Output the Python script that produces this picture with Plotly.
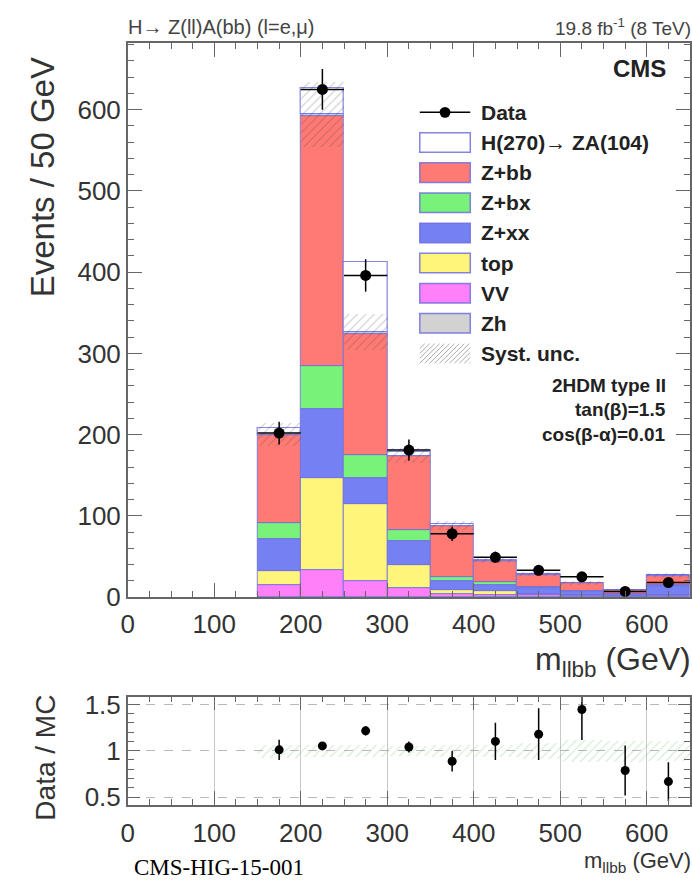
import numpy as np
import plotly.graph_objects as go

W, H = 692, 894

# m_llbb bins (GeV): 150-650 in 50 GeV steps
mass_centers = [175, 225, 275, 325, 375, 425, 475, 525, 575, 625]
bin_width = 50

data_counts = [202, 625, 396, 181, 78, 49, 33, 25, 7, 18]
data_err = [14, 25, 20, 13, 9, 7, 6, 5, 3, 4]

bkg_vv = [15, 33, 20, 11, 4, 3, 2, 1, 0.5, 1]
bkg_top = [17, 114, 94, 29, 5, 4, 2, 1, 0.5, 2]
bkg_zxx = [39, 84, 33, 29, 11, 8, 7, 5, 2.5, 10]
bkg_zbx = [20, 54, 28, 13, 5, 3, 1, 1, 0.5, 1.5]
bkg_zbb = [108, 307, 149, 91, 62, 26, 15.5, 9, 4.7, 12]
bkg_zh = [1, 2, 2, 1, 1, 0.5, 0.5, 0.3, 0.2, 0.5]
signal_h270 = [8, 33, 86, 4, 2, 1, 0.5, 0.3, 0.2, 0.5]
syst_unc = [14, 40, 22, 9, 6, 3, 2.5, 2, 1, 3]

ratio_err = [0.11, 0.04, 0.05, 0.06, 0.11, 0.2, 0.28, 0.33, 0.27, 0.21]

x_ticks = [0, 100, 200, 300, 400, 500, 600]
y_ticks = [0, 100, 200, 300, 400, 500, 600]
ratio_ticks = [0.5, 1, 1.5]
ratio_tick_text = ["0.5", "1", "1.5"]

layers = [
    ("VV", bkg_vv, "#ff80f8"),
    ("top", bkg_top, "#fff57a"),
    ("Z+xx", bkg_zxx, "#7580f2"),
    ("Z+bx", bkg_zbx, "#78f278"),
    ("Z+bb", bkg_zbb, "#ff7a74"),
    ("Zh", bkg_zh, "#d2d2d2"),
]
OUTLINE = "rgba(110,110,225,0.85)"

fig = go.Figure()

# stacked backgrounds
base = np.zeros(len(mass_centers))
for name, vals, col in layers:
    v = np.array(vals, dtype=float)
    fig.add_trace(go.Bar(
        x=mass_centers, y=v, base=base.copy(), width=bin_width,
        marker=dict(color=col, line=dict(color=OUTLINE, width=1)),
        name=name, showlegend=False, xaxis="x", yaxis="y"))
    base = base + v
bkg_total = base.copy()

# signal on top of the background stack
fig.add_trace(go.Bar(
    x=mass_centers, y=signal_h270, base=bkg_total, width=bin_width,
    marker=dict(color="white", line=dict(color=OUTLINE, width=1.2)),
    showlegend=False, xaxis="x", yaxis="y"))

# systematic uncertainty band
unc = np.array(syst_unc, dtype=float)
fig.add_trace(go.Bar(
    x=mass_centers, y=2 * unc, base=bkg_total - unc, width=bin_width,
    marker=dict(color="rgba(0,0,0,0)", line=dict(width=0),
                pattern=dict(shape="/", fgcolor="rgba(60,60,60,0.55)",
                             bgcolor="rgba(0,0,0,0)", size=6, solidity=0.18)),
    showlegend=False, xaxis="x", yaxis="y"))

# data points
fig.add_trace(go.Scatter(
    x=mass_centers, y=data_counts, mode="markers",
    marker=dict(size=11, color="black"),
    error_y=dict(type="data", array=data_err, width=0, thickness=1.5, color="black"),
    error_x=dict(type="constant", value=bin_width / 2, width=0, thickness=1.5, color="black"),
    showlegend=False, xaxis="x", yaxis="y"))

# ratio panel
ratio = np.array(data_counts, dtype=float) / bkg_total
rel_unc = unc / bkg_total
fig.add_trace(go.Bar(
    x=mass_centers, y=2 * rel_unc, base=1 - rel_unc, width=bin_width,
    marker=dict(color="rgba(0,0,0,0)", line=dict(width=0),
                pattern=dict(shape="/", fgcolor="rgba(120,190,120,0.6)",
                             bgcolor="rgba(0,0,0,0)", size=6, solidity=0.2)),
    showlegend=False, xaxis="x2", yaxis="y2"))
fig.add_trace(go.Scatter(
    x=mass_centers, y=ratio, mode="markers",
    marker=dict(size=9, color="black"),
    error_y=dict(type="data", array=ratio_err, width=0, thickness=1.5, color="black"),
    showlegend=False, xaxis="x2", yaxis="y2", cliponaxis=True))


def px(x):
    return x / W


def py(y):
    return 1 - y / H


FONT = "Liberation Sans, Arial, sans-serif"
AXCOL = "#666"
TXT = "#333"

x_dom = [px(122), px(690)]
common_x = dict(range=[0, 650], tickvals=x_ticks, ticks="inside", ticklen=14,
                tickcolor=AXCOL, showline=True, linecolor=AXCOL, linewidth=1.5,
                mirror="ticks", zeroline=False,
                minor=dict(dtick=25, ticks="inside", ticklen=6, tickcolor=AXCOL),
                tickfont=dict(family=FONT, size=26, color=TXT))

fig.update_layout(
    width=W, height=H, margin=dict(l=0, r=0, t=0, b=0),
    paper_bgcolor="white", plot_bgcolor="white",
    barmode="overlay", bargap=0, showlegend=False,
    xaxis=dict(domain=x_dom, anchor="y", showgrid=False, ticklabelstandoff=3, **common_x),
    yaxis=dict(domain=[py(605), py(37)], anchor="x", range=[0, 682],
               tickvals=y_ticks, ticks="inside", ticklen=14, tickcolor=AXCOL,
               showline=True, linecolor=AXCOL, linewidth=1.5, mirror="ticks",
               zeroline=False, showgrid=False,
               minor=dict(dtick=20, ticks="inside", ticklen=6, tickcolor=AXCOL),
               tickfont=dict(family=FONT, size=26, color=TXT)),
    xaxis2=dict(domain=x_dom, anchor="y2", showgrid=True, gridcolor="#c8c8c8",
                gridwidth=1, ticklabelstandoff=4, **common_x),
    yaxis2=dict(domain=[py(818), py(707)], anchor="x2", range=[0.415, 1.585],
                tickvals=ratio_ticks, ticktext=ratio_tick_text, ticks="inside",
                ticklen=12, tickcolor=AXCOL, showline=True, linecolor=AXCOL,
                linewidth=1.5, mirror="ticks", zeroline=False,
                showgrid=True, gridcolor="#b8b8b8", griddash="dash", gridwidth=1,
                minor=dict(dtick=0.1, ticks="inside", ticklen=6, tickcolor=AXCOL),
                tickfont=dict(family=FONT, size=26, color=TXT)),
)

ann = []


def text(x, y, s, size, anchor="left", bold=False, color="#222", angle=0, family=FONT):
    ann.append(dict(x=px(x), y=py(y), xref="paper", yref="paper", text=s,
                    showarrow=False, xanchor=anchor, yanchor="middle",
                    textangle=angle, borderpad=0,
                    font=dict(family=family, size=size, color=color,
                              weight="bold" if bold else "normal")))


text(121, 20, "H→ Z(ll)A(bb) (l=e,μ)", 20, color="#444")
text(692, 20, "19.8 fb<sup>-1</sup> (8 TeV)", 19, anchor="right", color="#444")
text(667, 63, "CMS", 24, anchor="right", bold=True)
text(667, 388, "2HDM type II", 19, anchor="right", bold=True)
text(667, 413, "tan(β)=1.5", 19, anchor="right", bold=True)
text(667, 438, "cos(β-α)=0.01", 19, anchor="right", bold=True)

text(36, 175, "Events / 50 GeV", 33, anchor="center", angle=-90, color=TXT)
text(692, 671, "m<sub>llbb</sub> (GeV)", 32, anchor="right", color=TXT)
text(38, 770, "Data / MC", 28, anchor="center", angle=-90, color=TXT)
text(692, 877, "m<sub>llbb</sub> (GeV)", 22, anchor="right", color=TXT)
text(127, 882, "CMS-HIG-15-001", 23, color="black", family="Liberation Serif, Times New Roman, serif")

# legend block
shapes = []
leg_x0, leg_x1, leg_tx = 417, 468, 478
row_y = [108 + 30.9 * i for i in range(9)]
leg_labels = ["Data", "H(270)→ ZA(104)", "Z+bb", "Z+bx", "Z+xx", "top", "VV", "Zh", "Syst. unc."]
leg_fill = [None, "white", "#ff7a74", "#78f278", "#7580f2", "#fff57a", "#ff80f8", "#d2d2d2", None]

for yc, lab, fc in zip(row_y, leg_labels, leg_fill):
    text(leg_tx, yc, lab, 21, bold=True)
    if lab == "Data":
        shapes.append(dict(type="line", xref="paper", yref="paper",
                           x0=px(leg_x0), x1=px(leg_x1), y0=py(yc), y1=py(yc),
                           line=dict(color="black", width=1.5)))
        shapes.append(dict(type="circle", xref="paper", yref="paper",
                           x0=px(442.5 - 5.5), x1=px(442.5 + 5.5),
                           y0=py(yc + 5.5), y1=py(yc - 5.5),
                           fillcolor="black", line=dict(width=0)))
    elif fc is None:
        # hatched swatch
        y0, y1 = yc - 10, yc + 10
        segs = []
        step = 5
        for k in np.arange(leg_x0 - 20, leg_x1, step):
            xa, ya = k, y1
            xb, yb = k + 20, y0
            if xa < leg_x0:
                ya = y1 - (leg_x0 - xa)
                xa = leg_x0
            if xb > leg_x1:
                yb = y0 + (xb - leg_x1)
                xb = leg_x1
            if xb <= xa:
                continue
            segs.append(f"M{px(xa):.5f},{py(ya):.5f} L{px(xb):.5f},{py(yb):.5f}")
        shapes.append(dict(type="path", xref="paper", yref="paper", path=" ".join(segs),
                           line=dict(color="rgba(90,90,90,0.5)", width=1)))
    else:
        shapes.append(dict(type="rect", xref="paper", yref="paper",
                           x0=px(leg_x0), x1=px(leg_x1), y0=py(yc + 10), y1=py(yc - 10),
                           fillcolor=fc, line=dict(color=OUTLINE, width=1.5)))

fig.update_layout(annotations=ann, shapes=shapes)

fig.write_html("out.html")
